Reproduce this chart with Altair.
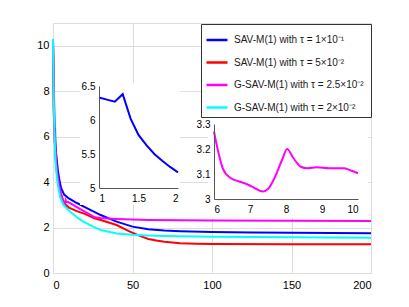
import altair as alt
import pandas as pd

# ---------------- data ----------------
series_labels = [
    "SAV-M(1) with  τ = 1×10⁻¹",
    "SAV-M(1) with  τ = 5×10⁻²",
    "G-SAV-M(1) with  τ = 2.5×10⁻²",
    "G-SAV-M(1) with  τ = 2×10⁻²",
]
series_colors = ["#0000FF", "#FF0000", "#FF00FF", "#00FFFF"]

blue_t = [0, 1, 1.1, 1.2, 1.3, 1.4, 1.5, 1.6, 1.7, 1.8, 1.9, 2, 3, 4, 5, 7, 10, 15, 20,
          30, 40, 50, 60, 70, 80, 100, 125, 150, 175, 200]
blue_v = [10.3, 6.33, 6.30, 6.27, 6.38, 6.02, 5.78, 5.63, 5.50, 5.40, 5.31, 5.23, 4.55,
          4.1, 3.75, 3.45, 3.28, 3.08, 2.9, 2.55, 2.26, 2.04, 1.93, 1.87, 1.84, 1.80,
          1.78, 1.77, 1.76, 1.75]

red_t = [0, 0.5, 1, 2, 3, 4, 6, 8, 10, 15, 20, 26, 30, 40, 48, 55, 60, 65, 70, 80, 90,
         100, 150, 200]
red_v = [10.3, 7.0, 5.9, 4.7, 4.1, 3.7, 3.25, 3.0, 2.88, 2.72, 2.6, 2.41, 2.33, 2.11,
         1.83, 1.62, 1.50, 1.43, 1.38, 1.31, 1.29, 1.28, 1.27, 1.26]

mag_t = [0, 0.5, 1, 2, 3, 4, 5, 6, 6.1, 6.25, 6.45, 6.7, 6.95, 7.15, 7.35, 7.5, 7.7,
         7.9, 8.03, 8.2, 8.4, 8.6, 8.85, 9.2, 9.6, 9.8, 10, 15, 20, 26.4, 30, 40, 50,
         60, 80, 100, 150, 200]
mag_v = [10.3, 7.2, 6.1, 4.9, 4.2, 3.8, 3.5, 3.27, 3.20, 3.12, 3.085, 3.07, 3.057,
         3.042, 3.03, 3.04, 3.09, 3.16, 3.20, 3.165, 3.13, 3.123, 3.127, 3.123, 3.123,
         3.114, 3.103, 2.9, 2.7, 2.45, 2.42, 2.38, 2.35, 2.33, 2.32, 2.31, 2.30, 2.29]

cyan_t = [0, 0.5, 1, 1.5, 2, 3, 4.4, 6.5, 10.7, 15, 19, 25, 30, 40, 50, 60, 70, 80,
          100, 150, 200]
cyan_v = [10.3, 7.5, 6.0, 5.0, 4.5, 3.9, 3.36, 3.0, 2.7, 2.45, 2.26, 2.05, 1.89, 1.74,
          1.68, 1.65, 1.63, 1.62, 1.60, 1.57, 1.555]

x_ticks = [0, 50, 100, 150, 200]
y_ticks = [0, 2, 4, 6, 8, 10]
in1_xticks = [1, 1.5, 2]
in1_yticks = [5, 5.5, 6, 6.5]
in2_xticks = [6, 7, 8, 9, 10]
in2_yticks = [3, 3.1, 3.2, 3.3]

# ---------------- tables ----------------
rows = []
for lab, ts, vs in zip(series_labels, [blue_t, red_t, mag_t, cyan_t],
                       [blue_v, red_v, mag_v, cyan_v]):
    for t, v in zip(ts, vs):
        rows.append({"t": t, "v": v, "series": lab})
df_main = pd.DataFrame(rows)

df_in1 = pd.DataFrame({"t": blue_t, "v": blue_v})
df_in1 = df_in1[(df_in1.t >= 1) & (df_in1.t <= 2)]
df_in2 = pd.DataFrame({"t": mag_t, "v": mag_v})
df_in2 = df_in2[(df_in2.t >= 6) & (df_in2.t <= 10)]

# inset backgrounds (layout, in each inset's own units)
bg1 = pd.DataFrame({"x0": [0.76], "x1": [2.03], "y0": [4.75], "y1": [6.54]})
bg2 = pd.DataFrame({"x0": [5.83], "x1": [10.28], "y0": [2.925], "y1": [3.35]})

FONT = "Liberation Sans"
W, H = 318, 250

main = alt.Chart(df_main).mark_line(strokeWidth=2).encode(
    x=alt.X("t:Q", scale=alt.Scale(domain=[0, 200], nice=False, zero=False),
            axis=alt.Axis(values=x_ticks, title=None, orient="bottom", grid=True,
                          ticks=False, domain=False, labelPadding=6,
                          labelFontSize=11, format="d")),
    y=alt.Y("v:Q", scale=alt.Scale(domain=[0, 11], nice=False, zero=False),
            axis=alt.Axis(values=y_ticks, title=None, orient="left", grid=True,
                          ticks=False, domain=False, labelPadding=4,
                          labelFontSize=11, format="d")),
    color=alt.Color("series:N",
                    scale=alt.Scale(domain=series_labels, range=series_colors),
                    legend=alt.Legend(orient="none", legendX=148, legendY=1,
                                      title=None, symbolType="stroke",
                                      symbolStrokeWidth=2.5, symbolSize=441,
                                      labelFontSize=10, labelFont=FONT,
                                      labelColor="#1a1a1a",
                                      strokeColor="#333333", fillColor="white",
                                      padding=4, rowPadding=5.5, labelOffset=5,
                                      labelLimit=300)),
    order=alt.Order("t:Q"),
)


def xs(dom, rng):
    return alt.Scale(domain=dom, range=rng, nice=False, zero=False)


def inset_axis(values, orient, offset, fmt):
    return alt.Axis(values=values, title=None, orient=orient, offset=offset,
                    grid=False, ticks=False, labelPadding=4 if orient == "left" else 5,
                    labelFontSize=10, domainColor="#555555", format=fmt, zindex=3)


inset1_bg = alt.Chart(bg1).mark_rect(color="white", opacity=1).encode(
    x=alt.X("x0:Q", scale=xs([1, 2], [46, 125]), axis=None),
    x2="x1:Q",
    y=alt.Y("y0:Q", scale=xs([5, 6.5], [165, 63]), axis=None),
    y2="y1:Q",
)
inset1_line = alt.Chart(df_in1).mark_line(color="#0000FF", strokeWidth=2).encode(
    x=alt.X("t:Q", scale=xs([1, 2], [46, 125]),
            axis=inset_axis(in1_xticks, "bottom", -(H - 165), ".1~f")),
    y=alt.Y("v:Q", scale=xs([5, 6.5], [165, 63]),
            axis=inset_axis(in1_yticks, "left", -46, ".1~f")),
)

inset2_bg = alt.Chart(bg2).mark_rect(color="white", opacity=1).encode(
    x=alt.X("x0:Q", scale=xs([6, 10], [161, 305]), axis=None),
    x2="x1:Q",
    y=alt.Y("y0:Q", scale=xs([3, 3.3], [176, 101]), axis=None),
    y2="y1:Q",
)
inset2_line = alt.Chart(df_in2).mark_line(color="#FF00FF", strokeWidth=2,
                                          interpolate="monotone").encode(
    x=alt.X("t:Q", scale=xs([6, 10], [161, 305]),
            axis=inset_axis(in2_xticks, "bottom", -(H - 176), "d")),
    y=alt.Y("v:Q", scale=xs([3, 3.3], [176, 101]),
            axis=inset_axis(in2_yticks, "left", -161, ".1~f")),
)

chart = alt.LayerChart(
    layer=[main, inset1_bg, inset1_line, inset2_bg, inset2_line]
).resolve_scale(
    x="independent", y="independent"
).resolve_axis(
    x="independent", y="independent"
).properties(
    width=W, height=H,
    autosize=alt.AutoSizeParams(type="none"),
    padding={"left": 45, "top": 15, "right": 22, "bottom": 28},
).configure_view(
    stroke="#555555", strokeWidth=1
).configure_axis(
    labelFont=FONT, labelColor="#262626", gridColor="#e3e3e3", gridWidth=1
).configure(background="white")

chart.save("out.html", embed_options={"renderer": "svg", "actions": False})
